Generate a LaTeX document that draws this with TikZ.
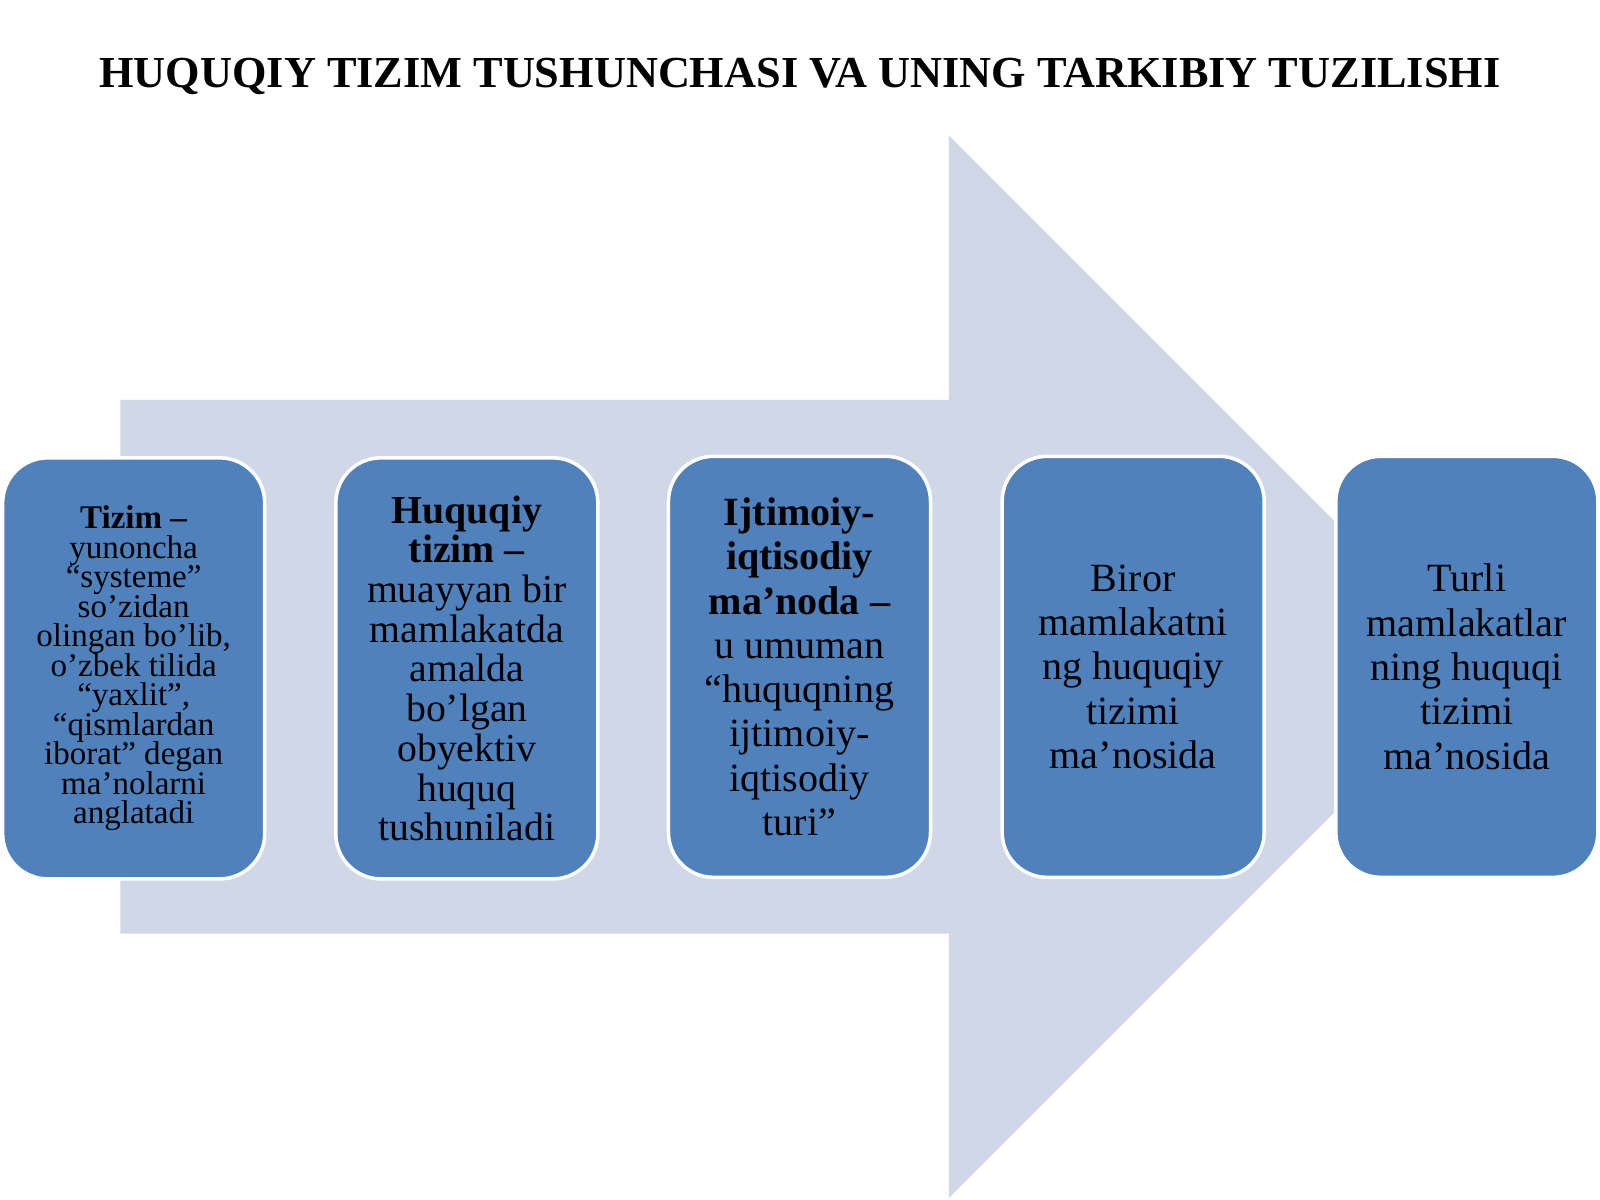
\documentclass[tikz,border=0pt]{standalone}
\usepackage{fontspec}
\setmainfont{Liberation Serif}
\definecolor{boxblue}{HTML}{4F81BD}
\definecolor{arrowgrey}{HTML}{D0D8E8}
\newcommand\tightlines{\lineskiplimit=-10pt\relax}
\tikzset{stage/.style={draw=white,line width=1pt,fill=boxblue,rounded corners=4.5mm,minimum width=2.62cm,minimum height=4.21cm,align=center,inner sep=0pt,text=black}}

\begin{document}
\begin{tikzpicture}[x=0.10204mm,y=-0.10204mm]
	\useasboundingbox (0,0) rectangle (1568,1176);
	\fill[arrowgrey] (118,392) -- (930,392) -- (930,133) -- (1450.5,653.5) -- (930,1174) -- (930,915) -- (118,915) -- cycle;
	\node[font=\bfseries\fontsize{12.6}{15}\selectfont] (title) at (784,75) {HUQUQIY TIZIM TUSHUNCHASI VA UNING TARKIBIY TUZILISHI};
	\node[stage,font=\fontsize{9.4}{8.4}\selectfont\tightlines] (tizim) at (131,655) {\textbf{Tizim –}\\yunoncha\\“systeme”\\so’zidan\\olingan bo’lib,\\o’zbek tilida\\“yaxlit”,\\“qismlardan\\iborat” degan\\ma’nolarni\\anglatadi};
	\node[stage,font=\fontsize{11.3}{11.3}\selectfont\tightlines] (huquqiy) at (457.5,655) {\textbf{Huquqiy}\\\textbf{tizim –}\\muayyan bir\\mamlakatda\\amalda\\bo’lgan\\obyektiv\\huquq\\tushuniladi};
	\node[stage,font=\fontsize{11.4}{12.6}\selectfont] (ijtimoiy) at (783.5,653.5) {\textbf{Ijtimoiy-}\\\textbf{iqtisodiy}\\\textbf{ma’noda –}\\u umuman\\“huquqning\\ijtimoiy-\\iqtisodiy\\turi”};
	\node[stage,font=\fontsize{11.4}{12.6}\selectfont] (biror) at (1110.5,653.5) {Biror\\mamlakatni\\ng huquqiy\\tizimi\\ma’nosida};
	\node[stage,font=\fontsize{11.4}{12.6}\selectfont] (turli) at (1437.5,653.5) {Turli\\mamlakatlar\\ning huquqi\\tizimi\\ma’nosida};
\end{tikzpicture}
\end{document}
